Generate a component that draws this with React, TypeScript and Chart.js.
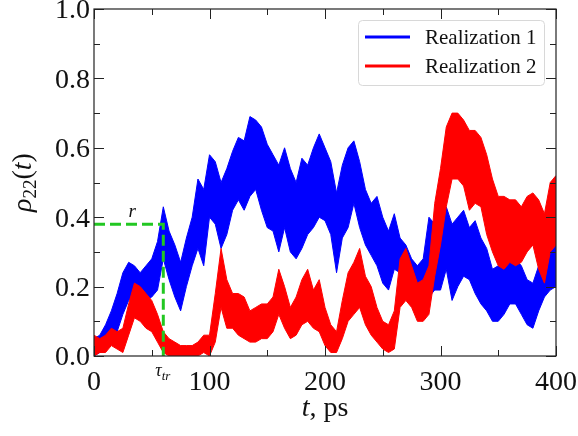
import { useEffect, useRef } from 'react';
import { Chart, registerables } from 'chart.js';
Chart.register(...registerables);

// time grid (ps)
const T = [0,5,10,15,20,25,30,35,40,45,50,55,60,65,70,75,80,85,90,95,100,105,110,115,120,125,130,135,140,145,150,155,160,165,170,175,180,185,190,195,200,205,210,215,220,225,230,235,240,245,250,255,260,265,270,275,280,285,290,295,300,305,310,315,320,325,330,335,340,345,350,355,360,365,370,375,380,385,390,395,400];

// Realization 1 (blue) lower / upper envelope of the fluctuating trace
const R1_LOW = [0.00,0.01,0.02,0.04,0.07,0.12,0.16,0.18,0.16,0.16,0.17,0.19,0.28,0.22,0.17,0.13,0.20,0.26,0.31,0.26,0.40,0.38,0.31,0.35,0.42,0.45,0.42,0.46,0.48,0.42,0.37,0.36,0.30,0.37,0.30,0.28,0.31,0.35,0.37,0.40,0.39,0.35,0.24,0.34,0.37,0.44,0.37,0.32,0.29,0.26,0.21,0.19,0.25,0.24,0.22,0.20,0.15,0.17,0.17,0.19,0.19,0.25,0.16,0.20,0.23,0.22,0.18,0.15,0.13,0.10,0.10,0.12,0.15,0.15,0.12,0.09,0.08,0.13,0.17,0.19,0.20];
const R1_HIGH = [0.05,0.06,0.09,0.13,0.18,0.24,0.27,0.26,0.24,0.26,0.28,0.33,0.43,0.36,0.32,0.27,0.34,0.40,0.51,0.48,0.58,0.56,0.50,0.54,0.59,0.63,0.62,0.69,0.68,0.66,0.61,0.58,0.55,0.60,0.54,0.50,0.57,0.55,0.60,0.64,0.60,0.56,0.47,0.55,0.60,0.62,0.56,0.48,0.44,0.46,0.40,0.36,0.41,0.34,0.32,0.28,0.26,0.28,0.40,0.38,0.36,0.43,0.38,0.40,0.42,0.37,0.39,0.34,0.31,0.25,0.26,0.27,0.28,0.28,0.26,0.22,0.21,0.26,0.29,0.30,0.32];

// Realization 2 (red) lower / upper envelope
const R2_LOW = [0.00,0.01,0.01,0.03,0.02,0.01,0.06,0.11,0.10,0.08,0.07,0.04,0.01,0.00,0.00,0.00,0.00,0.00,0.00,0.01,0.00,0.04,0.14,0.08,0.08,0.06,0.05,0.04,0.04,0.05,0.05,0.07,0.12,0.08,0.05,0.06,0.09,0.10,0.08,0.07,0.03,0.01,0.01,0.05,0.10,0.12,0.14,0.09,0.06,0.04,0.02,0.01,0.02,0.14,0.16,0.14,0.10,0.10,0.12,0.23,0.32,0.43,0.51,0.51,0.49,0.42,0.44,0.43,0.35,0.30,0.26,0.25,0.27,0.26,0.27,0.30,0.32,0.25,0.21,0.30,0.32];
const R2_HIGH = [0.06,0.05,0.06,0.08,0.07,0.08,0.15,0.21,0.20,0.18,0.16,0.12,0.07,0.05,0.04,0.03,0.03,0.03,0.04,0.06,0.06,0.18,0.31,0.22,0.18,0.18,0.17,0.13,0.14,0.15,0.15,0.17,0.25,0.20,0.14,0.17,0.22,0.25,0.19,0.22,0.14,0.09,0.07,0.16,0.24,0.27,0.31,0.23,0.20,0.14,0.10,0.09,0.13,0.28,0.31,0.26,0.21,0.22,0.26,0.44,0.54,0.66,0.70,0.70,0.68,0.65,0.65,0.63,0.58,0.51,0.46,0.46,0.45,0.45,0.43,0.46,0.47,0.45,0.41,0.50,0.52];

const SERIES_NAMES = ['Realization 1', 'Realization 2'];
const SERIES_COLORS = ['#0000ff', '#ff0000'];
const X_MAJOR = [0, 100, 200, 300, 400];
const X_MINOR = [50, 150, 250, 350];
const Y_MAJOR = [0, 0.2, 0.4, 0.6, 0.8, 1.0];
const Y_MINOR = [0.1, 0.3, 0.5, 0.7, 0.9];
const TAU_TR = 60;
const R_LEVEL = 0.38;

const SERIF = '"Liberation Serif", "Times New Roman", serif';
const GREEN = '#22c722';

function pts(xs: number[], ys: number[]) {
  return xs.map((x, i) => ({ x, y: ys[i] }));
}

const decor = {
  id: 'decor',
  afterDraw(chart: any) {
    const { ctx, chartArea } = chart;
    const xs = chart.scales.x;
    const ys = chart.scales.y;
    const { left, right, top, bottom } = chartArea;
    ctx.save();
    // frame
    ctx.strokeStyle = '#222';
    ctx.lineWidth = 1.2;
    ctx.strokeRect(left, top, right - left, bottom - top);
    // ticks (inward, all four sides)
    ctx.beginPath();
    const tick = (len: number, vx: number[], vy: number[]) => {
      vx.forEach((v) => {
        const px = Math.round(xs.getPixelForValue(v)) + 0.5;
        ctx.moveTo(px, bottom); ctx.lineTo(px, bottom - len);
        ctx.moveTo(px, top); ctx.lineTo(px, top + len);
      });
      vy.forEach((v) => {
        const py = Math.round(ys.getPixelForValue(v)) + 0.5;
        ctx.moveTo(left, py); ctx.lineTo(left + len, py);
        ctx.moveTo(right, py); ctx.lineTo(right - len, py);
      });
    };
    tick(10, X_MAJOR, Y_MAJOR);
    tick(6, X_MINOR, Y_MINOR);
    ctx.lineWidth = 1;
    ctx.stroke();

    // legend
    const lx = right - 198, ly = top + 11, lw = 186, lh = 65;
    ctx.fillStyle = 'rgba(255,255,255,0.85)';
    ctx.strokeStyle = '#d8d8d8';
    ctx.lineWidth = 1;
    ctx.beginPath();
    if (ctx.roundRect) ctx.roundRect(lx + 0.5, ly + 0.5, lw, lh, 4); else ctx.rect(lx + 0.5, ly + 0.5, lw, lh);
    ctx.fill();
    ctx.stroke();
    SERIES_NAMES.forEach((name, i) => {
      const yy = ly + 17 + i * 29;
      ctx.strokeStyle = SERIES_COLORS[i];
      ctx.lineWidth = 3;
      ctx.beginPath();
      ctx.moveTo(lx + 7, yy); ctx.lineTo(lx + 52, yy);
      ctx.stroke();
      ctx.fillStyle = '#111';
      ctx.font = `21px ${SERIF}`;
      ctx.textAlign = 'left';
      ctx.textBaseline = 'middle';
      ctx.fillText(name, lx + 67, yy + 1);
    });

    // annotations r and tau_tr
    ctx.fillStyle = '#111';
    ctx.textBaseline = 'alphabetic';
    ctx.font = `italic 19px ${SERIF}`;
    ctx.textAlign = 'center';
    ctx.fillText('r', xs.getPixelForValue(TAU_TR / 2 + 3), ys.getPixelForValue(R_LEVEL) - 7);
    const tx = xs.getPixelForValue(TAU_TR) - 8;
    const ty = bottom + 20;
    ctx.textAlign = 'left';
    ctx.font = `italic 18px ${SERIF}`;
    ctx.fillText('τ', tx, ty);
    const tw = ctx.measureText('τ').width;
    ctx.font = `italic 13px ${SERIF}`;
    ctx.fillText('tr', tx + tw, ty + 4);

    const drawRuns = (runs: { t: string; f: string; dy?: number }[], cx: number, by: number) => {
      let w = 0;
      runs.forEach((r) => { ctx.font = r.f; w += ctx.measureText(r.t).width; });
      let x = cx - w / 2;
      runs.forEach((r) => {
        ctx.font = r.f;
        ctx.fillText(r.t, x, by + (r.dy || 0));
        x += ctx.measureText(r.t).width;
      });
    };
    // x title: t, ps
    ctx.textAlign = 'left';
    drawRuns([
      { t: 't', f: `italic 28px ${SERIF}` },
      { t: ', ps', f: `28px ${SERIF}` },
    ], (left + right) / 2, 416);

    // y title: rho_22(t)
    ctx.save();
    ctx.translate(31, (top + bottom) / 2);
    ctx.rotate(-Math.PI / 2);
    drawRuns([
      { t: 'ρ', f: `italic 28px ${SERIF}` },
      { t: '22', f: `19px ${SERIF}`, dy: 5 },
      { t: '(', f: `28px ${SERIF}` },
      { t: 't', f: `italic 28px ${SERIF}` },
      { t: ')', f: `28px ${SERIF}` },
    ], 0, 0);
    ctx.restore();
    ctx.restore();
  },
};

export default function App() {
  const ref = useRef<HTMLCanvasElement>(null);
  useEffect(() => {
    if (!ref.current) return;
    const band = (lo: number[], hi: number[], color: string, idxLow: number) => [
      {
        data: pts(T, hi), borderColor: color, backgroundColor: color, borderWidth: 1,
        pointRadius: 0, fill: idxLow, tension: 0,
      },
      {
        data: pts(T, lo), borderColor: color, backgroundColor: color, borderWidth: 1,
        pointRadius: 0, fill: false, tension: 0,
      },
    ];
    const chart = new Chart(ref.current, {
      type: 'line',
      data: {
        datasets: [
          {
            data: [{ x: 0, y: R_LEVEL }, { x: TAU_TR, y: R_LEVEL }, { x: TAU_TR, y: 0 }],
            borderColor: GREEN, borderWidth: 3, borderDash: [11, 5], pointRadius: 0, fill: false,
          },
          ...band(R2_LOW, R2_HIGH, SERIES_COLORS[1], 2),
          ...band(R1_LOW, R1_HIGH, SERIES_COLORS[0], 4),
        ] as any,
      },
      options: {
        animation: false,
        responsive: false,
        devicePixelRatio: 1,
        layout: { padding: { top: 9, right: 22, left: 0, bottom: 0 } },
        plugins: { legend: { display: false }, tooltip: { enabled: false } },
        scales: {
          x: {
            type: 'linear', min: 0, max: 400,
            grid: { display: false, drawTicks: false },
            border: { display: false },
            afterBuildTicks: (s: any) => { s.ticks = X_MAJOR.map((v) => ({ value: v })); },
            ticks: { padding: 10, color: '#111', font: { family: SERIF, size: 28 }, maxRotation: 0, autoSkip: false },
            afterFit: (s: any) => { s.height = 80; s.paddingLeft = 0; s.paddingRight = 0; },
          },
          y: {
            type: 'linear', min: 0, max: 1,
            grid: { display: false, drawTicks: false },
            border: { display: false },
            afterBuildTicks: (s: any) => { s.ticks = Y_MAJOR.map((v) => ({ value: v })); },
            ticks: { padding: 4, labelOffset: 2, color: '#111', font: { family: SERIF, size: 28 }, callback: (v: any) => Number(v).toFixed(1) },
            afterFit: (s: any) => { s.width = 94; s.paddingTop = 0; s.paddingBottom = 0; },
          },
        },
      } as any,
      plugins: [decor],
    });
    return () => chart.destroy();
  }, []);
  return (
    <div style={{ position: 'absolute', left: 0, top: 0, width: 578, height: 436, background: '#fff' }}>
      <canvas ref={ref} width={578} height={436} />
    </div>
  );
}
